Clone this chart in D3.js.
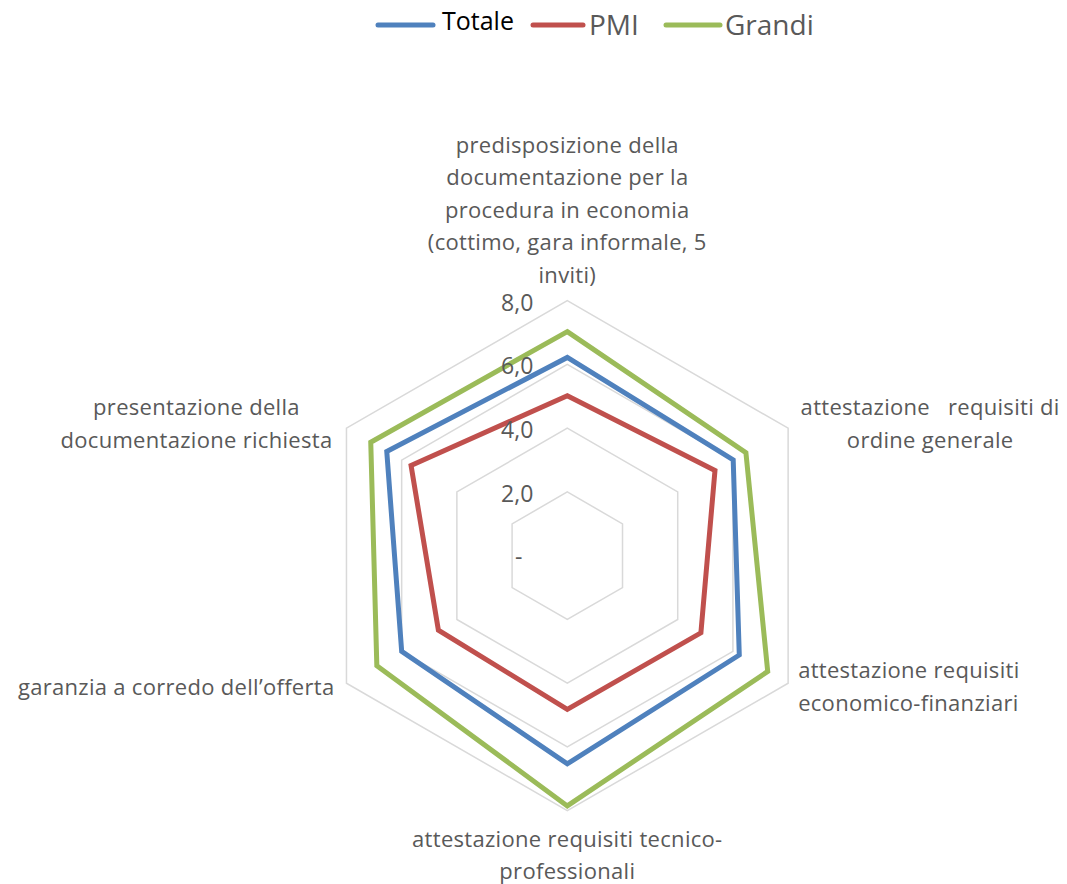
<!DOCTYPE html>
<html>
<head>
<meta charset="utf-8">
<script src="https://cdn.jsdelivr.net/npm/d3@7"></script>
<style>
  body { margin: 0; background: #fff; }
  text { font-family: "Open Sans", sans-serif; white-space: pre; }
</style>
</head>
<body>
<div class="chart"></div>
<script>
// Data
var categories = [
  ["predisposizione della", "documentazione per la", "procedura in economia", "(cottimo, gara informale, 5", "inviti)"],
  ["attestazione   requisiti di", "ordine generale"],
  ["attestazione requisiti", "economico-finanziari"],
  ["attestazione requisiti tecnico-", "professionali"],
  ["garanzia a corredo dell\u2019offerta"],
  ["presentazione della", "documentazione richiesta"]
];
var seriesNames = ["Totale", "PMI", "Grandi"];
var totale = [6.22, 6.01, 6.23, 6.53, 6.00, 6.54];
var pmi = [5.02, 5.35, 4.84, 4.82, 4.67, 5.66];
var grandi = [7.03, 6.47, 7.26, 7.85, 6.90, 7.12];
var tickValues = [0, 2, 4, 6, 8];
var tickLabels = ["-", "2,0", "4,0", "6,0", "8,0"];

var svgWidth = 1067;
var svgHeight = 884;
var cx = 567.3, cy = 555.7;
var colors = ["#4f81bd", "#c0504d", "#9bbb59"];
var allSeries = [totale, pmi, grandi];

var svg = d3.select(".chart")
  .append("svg")
  .attr("width", svgWidth)
  .attr("height", svgHeight);

var chartGroup = svg.append("g")
  .attr("transform", `translate(${cx}, ${cy})`);

// radial scale and angle per category
var rScale = d3.scaleLinear().domain([0, 8]).range([0, 255]);
var angle = d3.scalePoint()
  .domain(d3.range(categories.length + 1))
  .range([0, 2 * Math.PI]);

function pt(i, v) {
  var a = angle(i);
  return [rScale(v) * Math.sin(a), -rScale(v) * Math.cos(a)];
}

var radial = d3.lineRadial()
  .angle((d, i) => angle(i))
  .radius(d => rScale(d))
  .curve(d3.curveLinearClosed);

// grid rings
chartGroup.selectAll(".ring")
  .data(tickValues.filter(t => t > 0))
  .enter()
  .append("path")
  .attr("d", t => radial(categories.map(() => t)))
  .attr("fill", "none")
  .attr("stroke", "#d9d9d9")
  .attr("stroke-width", 1.5);

// series lines
chartGroup.selectAll(".series")
  .data(allSeries)
  .enter()
  .append("path")
  .attr("d", d => radial(d))
  .attr("fill", "none")
  .attr("stroke", (d, i) => colors[i])
  .attr("stroke-width", 5)
  .attr("stroke-linejoin", "miter");

// tick labels
chartGroup.selectAll(".tick")
  .data(tickValues)
  .enter()
  .append("text")
  .attr("x", t => t === 0 ? -45 : -34)
  .attr("y", t => -rScale(t) + (t === 0 ? 9 : 10))
  .attr("text-anchor", "end")
  .attr("fill", "#595959")
  .style("font-size", "23px")
  .text((t, i) => tickLabels[i]);

// category labels: anchor, dx, dy of first baseline relative to vertex
var labelLayout = [
  { anchor: "middle", dx: 0, dy: -148 },
  { anchor: "middle", dx: 142, dy: -13 },
  { anchor: "start", dx: 10, dy: -5 },
  { anchor: "middle", dx: 0, dy: 36 },
  { anchor: "end", dx: -12, dy: 12 },
  { anchor: "middle", dx: -150, dy: -13 }
];
var lineH = 32.5;

categories.forEach(function (lines, i) {
  var p = pt(i, 8);
  var lay = labelLayout[i];
  var t = chartGroup.append("text")
    .attr("text-anchor", lay.anchor)
    .attr("fill", "#595959")
    .style("font-size", "22px")
    .style("letter-spacing", "0.3px");
  lines.forEach(function (ln, j) {
    t.append("tspan")
      .attr("x", p[0] + lay.dx)
      .attr("y", p[1] + lay.dy + j * lineH)
      .text(ln);
  });
});

// legend
var legendLayout = [
  { x1: 378, x2: 433, tx: 442, ty: 30, color: "#000000", size: "25px" },
  { x1: 533, x2: 583, tx: 589, ty: 35, color: "#595959", size: "28px" },
  { x1: 666, x2: 720, tx: 725, ty: 35, color: "#595959", size: "28px" }
];
var legend = svg.selectAll(".legend")
  .data(seriesNames)
  .enter()
  .append("g");

legend.append("line")
  .attr("x1", (d, i) => legendLayout[i].x1)
  .attr("x2", (d, i) => legendLayout[i].x2)
  .attr("y1", 25)
  .attr("y2", 25)
  .attr("stroke", (d, i) => colors[i])
  .attr("stroke-width", 5)
  .attr("stroke-linecap", "round");

legend.append("text")
  .attr("x", (d, i) => legendLayout[i].tx)
  .attr("y", (d, i) => legendLayout[i].ty)
  .attr("fill", (d, i) => legendLayout[i].color)
  .style("font-size", (d, i) => legendLayout[i].size)
  .text(d => d);
</script>
</body>
</html>
